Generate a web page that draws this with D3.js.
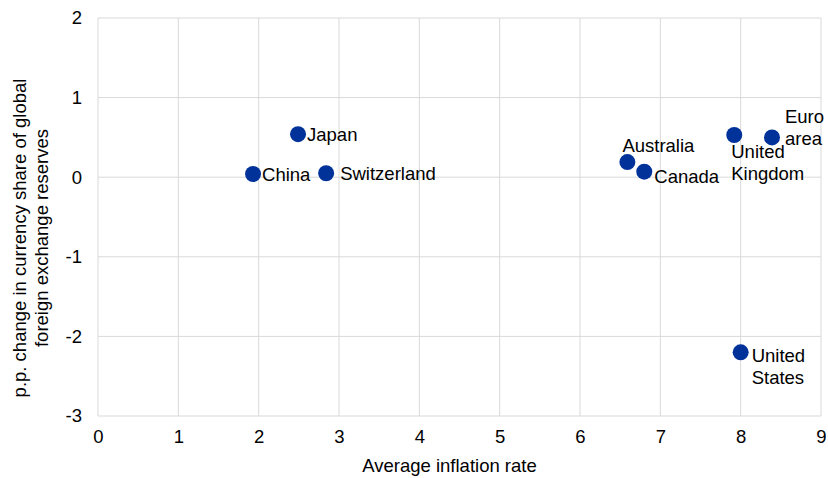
<!DOCTYPE html>
<html><head><meta charset="utf-8">
<script src="https://cdn.jsdelivr.net/npm/d3@7"></script>
<style>body{margin:0;background:#fff}svg{display:block}text{font-family:Arial,"Liberation Sans",sans-serif;fill:#000}</style>
</head><body>
<svg id="c" width="828" height="478"></svg>
<script>
const countries = ["China","Japan","Switzerland","Australia","Canada","United Kingdom","Euro area","United States"];
const inflation = [1.93, 2.49, 2.84, 6.59, 6.80, 7.92, 8.39, 8.00];
const shareChange = [0.04, 0.54, 0.05, 0.19, 0.07, 0.53, 0.50, -2.20];
const labelLines = [["China"],["Japan"],["Switzerland"],["Australia"],["Canada"],["United","Kingdom"],["Euro","area"],["United","States"]];
const labelPos = ["right","right","rightfar","above","rightbelow","below","rightabove","rightus"];
const xTicks = [0,1,2,3,4,5,6,7,8,9];
const yTicks = [-3,-2,-1,0,1,2];

const svg = d3.select("#c");
const m = {l:98, r:828-821, t:18, b:478-416};
const W = 828, H = 478;
const x = d3.scaleLinear().domain([0,9]).range([m.l, W-m.r]);
const y = d3.scaleLinear().domain([-3,2]).range([H-m.b, m.t]);
const grid = "#d9d9d9";

const g = svg.append("g");
g.selectAll("line.v").data(xTicks).join("line")
 .attr("x1",d=>x(d)).attr("x2",d=>x(d)).attr("y1",y(-3)).attr("y2",y(2))
 .attr("stroke",grid).attr("stroke-width",1);
g.selectAll("line.h").data(yTicks).join("line")
 .attr("x1",x(0)).attr("x2",x(9)).attr("y1",d=>y(d)).attr("y2",d=>y(d))
 .attr("stroke",grid).attr("stroke-width",1);

const fs = 18.5;
const ff = "Arial, 'Liberation Sans', sans-serif";
const xa = svg.append("g").attr("transform",`translate(0,${y(-3)})`)
 .call(d3.axisBottom(x).tickValues(xTicks).tickSize(0).tickPadding(14).tickFormat(d=>String(d)));
xa.select(".domain").remove();
xa.selectAll("text").style("font-size",fs+"px").style("font-family",ff).attr("fill","#000");
const ya = svg.append("g").attr("transform",`translate(${x(0)},0)`)
 .call(d3.axisLeft(y).tickValues(yTicks).tickSize(0).tickPadding(16).tickFormat(d=>String(d)));
ya.select(".domain").remove();
ya.selectAll("text").style("font-size",fs+"px").style("font-family",ff).attr("fill","#000");

svg.append("text").attr("x",(x(0)+x(9))/2-10).attr("y",472).attr("text-anchor","middle")
 .style("font-size",fs+"px").text("Average inflation rate");
const yt = svg.append("text").attr("transform","translate(26,238) rotate(-90)").attr("text-anchor","middle").style("font-size",fs+"px");
yt.append("tspan").attr("x",0).attr("y",0).text("p.p. change in currency share of global");
yt.append("tspan").attr("x",0).attr("y",22).text("foreign exchange reserves");

const data = countries.map((c,i)=>({c, x:inflation[i], y:shareChange[i], lines:labelLines[i], pos:labelPos[i]}));
svg.selectAll("circle.pt").data(data).join("circle")
 .attr("cx",d=>x(d.x)).attr("cy",d=>y(d.y)).attr("r",8).attr("fill","#003299");

const off = {right:[9,7], rightus:[11,10], rightfar:[14,7], above:[-5,-10], rightbelow:[10,11], below:[-3,23], rightabove:[13,-14]};
svg.selectAll("text.lab").data(data).join("text")
 .style("font-size",fs+"px")
 .attr("x",d=>x(d.x)+off[d.pos][0]).attr("y",d=>y(d.y)+off[d.pos][1])
 .each(function(d){
   const t=d3.select(this);
   d.lines.forEach((s,i)=>t.append("tspan").attr("x",x(d.x)+off[d.pos][0]).attr("dy",i?22:0).text(s));
 });
</script>
</body></html>
